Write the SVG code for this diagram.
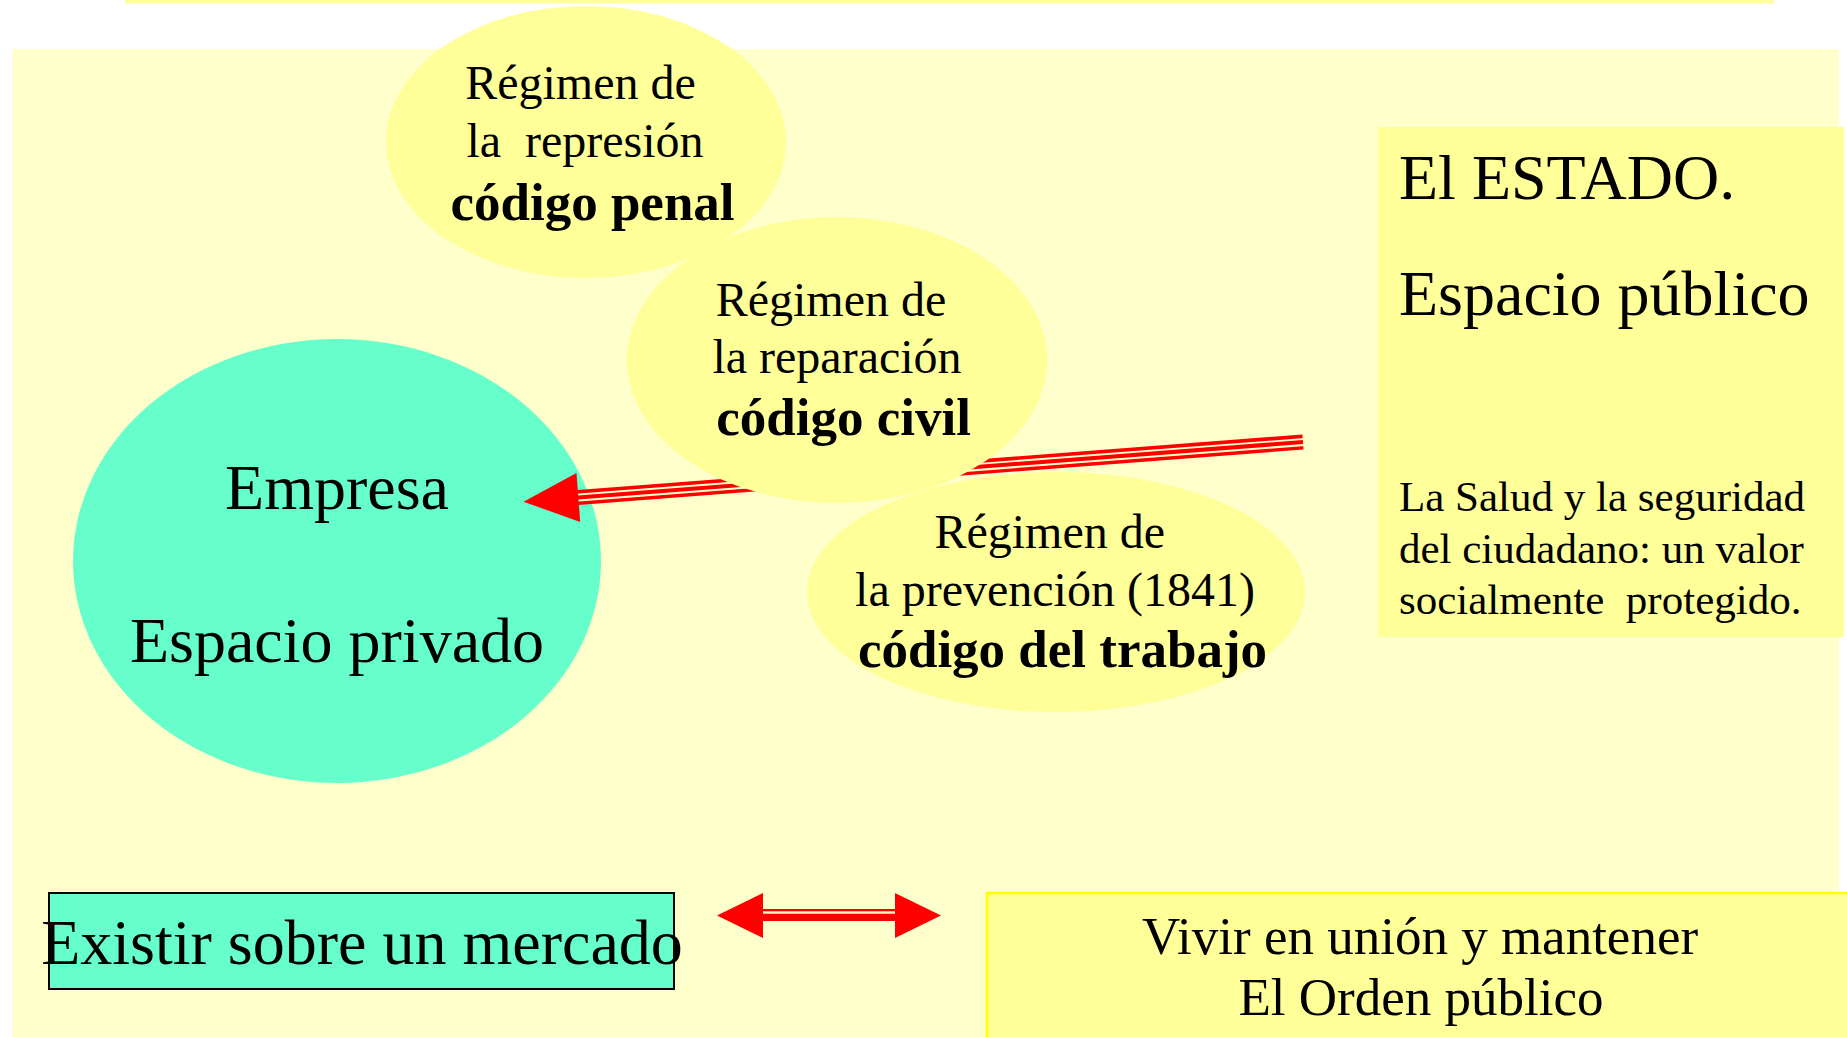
<svg xmlns="http://www.w3.org/2000/svg" width="1847" height="1037" viewBox="0 0 1847 1037">
<style>
.t{font-family:"Liberation Serif","Times New Roman",serif;fill:#000}
.r48{font-size:48px}
.b53{font-size:53px;font-weight:bold}
.m{text-anchor:middle}
.yel{fill:#FFFF99}
.red{fill:#FF0000}
</style>
<rect x="0" y="0" width="1847" height="1037" fill="#FFFFFF"/>
<rect x="12" y="49" width="1827" height="988" fill="#FFFFCC"/>
<rect x="125" y="0" width="1649" height="3.5" class="yel"/>

<g id="estado">
<rect x="1378" y="127" width="466" height="510" class="yel"/>
<text class="t" x="1399" y="199" font-size="64">El ESTADO.</text>
<text class="t" x="1399" y="315" font-size="64">Espacio público</text>
<text class="t" x="1399" y="511" font-size="43">La Salud y la seguridad</text>
<text class="t" x="1399" y="563" font-size="43">del ciudadano: un valor</text>
<text class="t" x="1399" y="614" font-size="43" xml:space="preserve">socialmente  protegido.</text>
</g>

<g id="empresa">
<ellipse cx="337" cy="561" rx="264" ry="222" fill="#66FFCC"/>
<text class="t m" x="337" y="509" font-size="64">Empresa</text>
<text class="t m" x="337" y="662" font-size="64">Espacio privado</text>
</g>

<g id="connectors">
<g id="arrow-estado-empresa">
<path d="M578 497.5 L1303 442" stroke="#FF0000" stroke-width="15" fill="none"/>
<path d="M576 497.7 L1305 442" stroke="#FFFFCC" stroke-width="8" fill="none"/>
<path d="M578 497.5 L1303 442" stroke="#FF0000" stroke-width="4" fill="none"/>
<polygon class="red" points="523.5,501.7 580.2,522 576.5,473"/>
</g>
<g id="arrow-mercado-orden">
<rect x="762" y="909" width="134" height="12" class="red"/>
<rect x="762" y="911.3" width="134" height="2.4" fill="#FFFFCC"/>
<polygon class="red" points="717,915.5 763,893 763,938"/>
<polygon class="red" points="941,915.5 895,893 895,938"/>
</g>
</g>

<g id="represion">
<ellipse cx="586" cy="142" rx="200" ry="136" class="yel"/>
<text class="t r48 m" x="580.5" y="99">Régimen de</text>
<text class="t r48 m" x="585" y="157" xml:space="preserve">la  represión</text>
<text class="t b53 m" x="592.5" y="220">código penal</text>
</g>

<g id="reparacion">
<ellipse cx="837" cy="360" rx="210" ry="143" class="yel"/>
<text class="t r48 m" x="831" y="316">Régimen de</text>
<text class="t r48 m" x="837" y="373">la reparación</text>
<text class="t b53 m" x="843.7" y="435">código civil</text>
</g>

<g id="prevencion">
<ellipse cx="1056" cy="592" rx="249" ry="120" class="yel"/>
<text class="t r48 m" x="1049.7" y="548">Régimen de</text>
<text class="t r48 m" x="1055" y="605.7">la prevención (1841)</text>
<text class="t b53 m" x="1062.5" y="666.7">código del trabajo</text>
</g>

<g id="mercado">
<rect x="49" y="893" width="625" height="96" fill="#66FFCC" stroke="#000" stroke-width="2"/>
<text class="t m" x="362" y="964" font-size="64">Existir sobre un mercado</text>
</g>

<g id="orden">
<rect x="987" y="893" width="880" height="160" class="yel" stroke="#FFFF00" stroke-width="2.5"/>
<text class="t m" x="1420" y="954" font-size="53">Vivir en unión y mantener</text>
<text class="t m" x="1421" y="1015" font-size="53">El Orden público</text>
</g>
</svg>
